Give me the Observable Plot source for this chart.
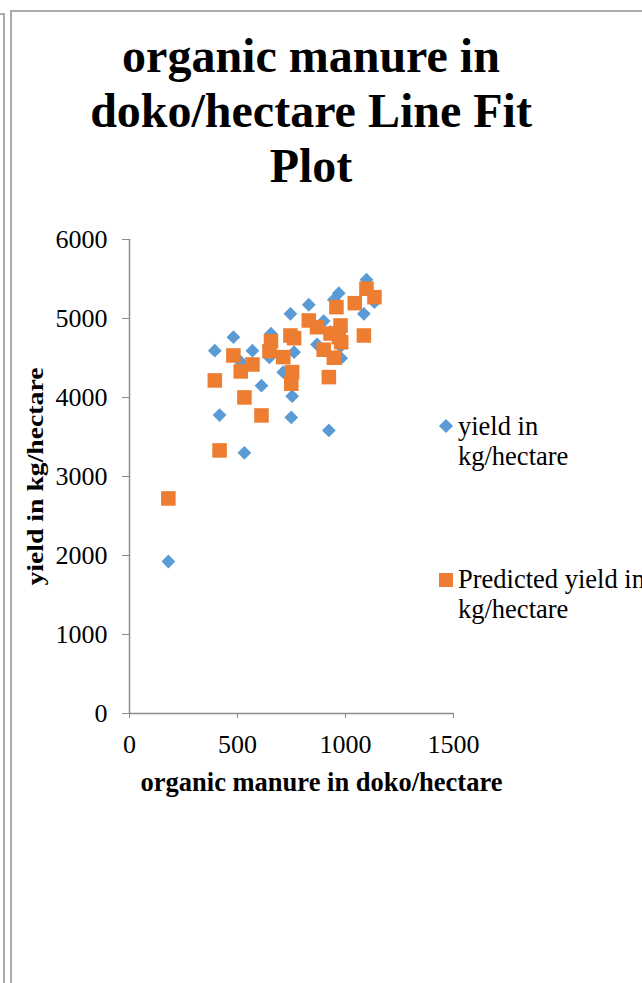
<!DOCTYPE html>
<html>
<head>
<meta charset="utf-8">
<script src="https://cdn.jsdelivr.net/npm/d3@7"></script>
<script src="https://cdn.jsdelivr.net/npm/@observablehq/plot@0.6"></script>
<style>
  html, body { margin: 0; padding: 0; background: #fff; overflow: hidden; }
  #page { position: relative; width: 642px; height: 983px; overflow: hidden;
          font-family: "Liberation Serif", "Times New Roman", serif; color: #000; }
  #page svg { position: absolute; left: 0; top: 0; }
  .frame-outer { position: absolute; left: -10px; top: 13px; width: 15px; bottom: -4px; box-sizing: border-box;
                 border-right: 2px solid #ababab; border-top: 2px solid #ababab; }
  .frame-inner { position: absolute; left: 10px; top: 10px; right: -4px; bottom: -4px;
                 border-left: 2px solid #ababab; border-top: 2px solid #ababab; }
  .title { position: absolute; left: 0; width: 622px; top: 28px; text-align: center;
           font-weight: bold; font-size: 48px; line-height: 55px; }
  .legend { position: absolute; left: 458px; font-size: 26.5px; line-height: 30px; white-space: nowrap; }
  .legend .swatch { position: absolute; }
</style>
</head>
<body>
<div id="page">
  <div class="frame-outer"></div>
  <div class="frame-inner"></div>
</div>
<script>
// Organic manure applied (doko/hectare) for each field
const manure = [180, 395, 417, 481, 515, 532, 569, 611, 648, 655, 712, 745, 749, 753, 762,
                830, 868, 899, 923, 931, 946, 958, 969, 977, 980, 1043, 1085, 1097, 1134];
// Observed yield (kg/hectare)
const yieldObserved = [1924, 4592, 3777, 4764, 4450, 3300, 4592, 4149, 4507, 4807, 4321, 5060, 3747, 4017, 4574,
                       5174, 4672, 4967, 3583, 4830, 5237, 5150, 5321, 4646, 4498, 5190, 5060, 5491, 5207];
// Yield predicted by the regression (kg/hectare)
const yieldPredicted = [2722, 4216, 3330, 4532, 4330, 4001, 4418, 3773, 4587, 4713, 4511, 4785, 4174, 4321, 4751,
                        4975, 4890, 4605, 4258, 4810, 4503, 5144, 4764, 4912, 4700, 5194, 4785, 5377, 5270];

const xTicks = [0, 500, 1000, 1500];
const yTicks = [0, 1000, 2000, 3000, 4000, 5000, 6000];

const titleLines = ["organic manure in", "doko/hectare Line Fit", "Plot"];
const xLabel = "organic manure in doko/hectare";
const yLabel = "yield in kg/hectare";
const seriesNames = ["yield in\nkg/hectare", "Predicted yield in\nkg/hectare"];
const seriesColors = ["#5B9BD5", "#ED7D31"];

const rows = manure.map((m, i) => ({manure: m, observed: yieldObserved[i], predicted: yieldPredicted[i]}));

const chart = Plot.plot({
  width: 642,
  height: 983,
  marginLeft: 129,
  marginRight: 189,
  marginTop: 239,
  marginBottom: 270,
  style: {background: "transparent", fontFamily: "'Liberation Serif', 'Times New Roman', serif", fontSize: "26px", color: "#000", overflow: "visible"},
  x: {domain: [0, 1500]},
  y: {domain: [0, 6000]},
  marks: [
    Plot.axisX({ticks: xTicks, tickFormat: "d", tickSize: 5, tickPadding: 16, stroke: "#8c8c8c", fill: "#000", fontSize: 26, label: null}),
    Plot.axisY({ticks: yTicks, tickFormat: "d", tickSize: 7, tickPadding: 15, stroke: "#8c8c8c", fill: "#000", fontSize: 26, label: null}),
    Plot.ruleX([0], {stroke: "#8c8c8c", strokeWidth: 1.5}),
    Plot.ruleY([0], {stroke: "#8c8c8c", strokeWidth: 1.5}),
    Plot.dot(rows, {x: "manure", y: "observed", symbol: "diamond2", r: 6.2, fill: seriesColors[0]}),
    Plot.dot(rows, {x: "manure", y: "predicted", symbol: "square", r: 8.2, fill: seriesColors[1]}),
    Plot.text([xLabel], {frameAnchor: "bottom", dx: 30, dy: 77, fontWeight: "bold", fontSize: 26.5, fill: "#000"}),
    Plot.text([yLabel], {frameAnchor: "left", textAnchor: "start", dx: -94, rotate: -90, fontWeight: "bold", fontSize: 23, fill: "#000"})
  ]
});

const page = document.getElementById("page");
page.appendChild(chart);

// stretch the vertical axis title along its length, centred on the frame
const yl = Array.from(chart.querySelectorAll("text")).find(t => t.textContent === yLabel);
if (yl) {
  yl.setAttribute("text-anchor", "start");
  yl.setAttribute("x", "-109");
  yl.setAttribute("textLength", "218");
  yl.setAttribute("lengthAdjust", "spacingAndGlyphs");
}

// title
const title = document.createElement("div");
title.className = "title";
title.innerHTML = titleLines.join("<br>");
page.appendChild(title);

// legend
const legendTops = [411, 564];
seriesNames.forEach((name, i) => {
  const item = document.createElement("div");
  item.className = "legend";
  item.style.top = legendTops[i] + "px";
  item.innerHTML = name.split("\n").join("<br>");
  const sw = document.createElement("div");
  sw.className = "swatch";
  sw.style.background = seriesColors[i];
  if (i === 0) {
    sw.style.width = "10px"; sw.style.height = "10px";
    sw.style.left = "-17px"; sw.style.top = "10px";
    sw.style.transform = "rotate(45deg)";
  } else {
    sw.style.width = "14px"; sw.style.height = "14px";
    sw.style.left = "-19px"; sw.style.top = "9px";
  }
  item.appendChild(sw);
  page.appendChild(item);
});
</script>
</body>
</html>
